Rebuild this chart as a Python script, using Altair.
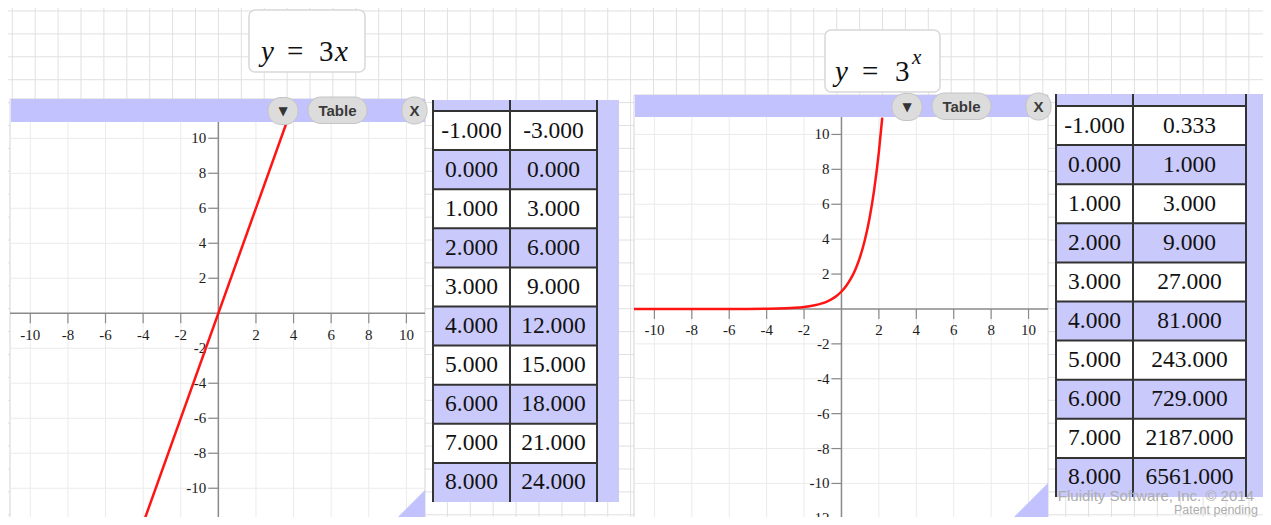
import altair as alt
import pandas as pd

# ---------------- data ----------------
tbl_x = [-1, 0, 1, 2, 3, 4, 5, 6, 7, 8]
tbl_lin_y = [-3, 0, 3, 6, 9, 12, 15, 18, 21, 24]
tbl_exp_y = [0.333, 1, 3, 9, 27, 81, 243, 729, 2187, 6561]

x_ticks = [-10, -8, -6, -4, -2, 2, 4, 6, 8, 10]
y_ticks = [-12, -10, -8, -6, -4, -2, 2, 4, 6, 8, 10]
x_grid = [-10, -8, -6, -4, -2, 2, 4, 6, 8, 10]
y_grid = [-12, -10, -8, -6, -4, -2, 2, 4, 6, 8, 10]

# y = 3x (visible segment)
lin_x = [-4.03, 3.64]
lin_y = [-12.1, 10.93]

# y = 3^x
exp_x = [-11.09, -9, -7, -5, -4, -3, -2.5, -2, -1.5, -1, -0.75, -0.5, -0.25,
         0, 0.25, 0.5, 0.75, 1, 1.25, 1.5, 1.75, 2, 2.18]
exp_y = [0.0, 0.0001, 0.0005, 0.0041, 0.0123, 0.037, 0.0642, 0.1111, 0.1925,
         0.3333, 0.4387, 0.5774, 0.7598, 1.0, 1.3161, 1.7321, 2.2795, 3.0,
         3.9482, 5.1962, 6.8385, 9.0, 10.97]

page_cols = list(range(55))
page_rows = list(range(23))

copyright_lines = ["Fluidity Software, Inc. \u00a9 2014", "Patent pending"]

# ---------------- layout / style ----------------
M = 8
W, H = 1255, 509
SERIF = "Liberation Serif"
SANS = "Liberation Sans"
BAR = "#c2c2fe"
TPURPLE = "#c9c9fb"
INK = "#1c1c1c"


def P(v):
    return v - M


def S(dom, rng):
    return alt.Scale(domain=dom, range=rng, zero=False, nice=False)


one = pd.DataFrame({"o": [0]})


def box(x1, x2, y1, y2, **kw):
    return alt.Chart(one).mark_rect(**kw).encode(
        x=alt.value(P(x1)), x2=alt.value(P(x2)),
        y=alt.value(P(y1)), y2=alt.value(P(y2)))


def label(x, y, text, **kw):
    return alt.Chart(pd.DataFrame({"t": [text]})).mark_text(**kw).encode(
        x=alt.value(P(x)), y=alt.value(P(y)), text="t:N")


layers = []

# page background grid
layers.append(
    alt.Chart(pd.DataFrame({"k": page_cols})).mark_rule(color="#e0e0e0", strokeWidth=1).encode(
        x=alt.X("k:Q", scale=S([0, 1], [P(12.3), P(12.3 + 22.9)]), axis=None),
        y=alt.value(0), y2=alt.value(H)))
layers.append(
    alt.Chart(pd.DataFrame({"k": page_rows})).mark_rule(color="#e0e0e0", strokeWidth=1).encode(
        y=alt.Y("k:Q", scale=S([0, 1], [P(11), P(11 + 22.9)]), axis=None),
        x=alt.value(0), x2=alt.value(W)))

# formula boxes
layers.append(box(249, 365, 10, 72, fill="white", stroke="#d8d8d8", strokeWidth=1.5, cornerRadius=6))
layers.append(label(261, 52, "y", font=SERIF, fontSize=29, fontStyle="italic", align="left", color="#111"))
layers.append(label(287, 52, "=", font=SERIF, fontSize=29, align="left", color="#111"))
layers.append(label(319, 52, "3", font=SERIF, fontSize=29, align="left", color="#111"))
layers.append(label(335, 52, "x", font=SERIF, fontSize=29, fontStyle="italic", align="left", color="#111"))

layers.append(box(825, 940, 30, 92, fill="white", stroke="#d8d8d8", strokeWidth=1.5, cornerRadius=6))
layers.append(label(835, 72, "y", font=SERIF, fontSize=29, fontStyle="italic", align="left", color="#111"))
layers.append(label(862, 72, "=", font=SERIF, fontSize=29, align="left", color="#111"))
layers.append(label(895, 72, "3", font=SERIF, fontSize=29, align="left", color="#111"))
layers.append(label(912, 58, "x", font=SERIF, fontSize=21, fontStyle="italic", align="left", color="#111"))


def graph(G, cx, cy):
    L, R, BT, T, B = G["left"], G["right"], G["bar_top"], G["top"], G["bottom"]
    xs = S(G["xdom"], [P(L), P(R)])
    ys = S(G["ydom"], [P(B), P(T)])
    out = []
    out.append(box(L, R, BT, B, fill="white", stroke="#d4d4d4", strokeWidth=1))
    out.append(alt.Chart(pd.DataFrame({"v": x_grid})).mark_rule(color="#ebebeb", strokeWidth=1).encode(
        x=alt.X("v:Q", scale=xs, axis=None), y=alt.value(P(T)), y2=alt.value(P(B))))
    out.append(alt.Chart(pd.DataFrame({"v": y_grid})).mark_rule(color="#ebebeb", strokeWidth=1).encode(
        y=alt.Y("v:Q", scale=ys, axis=None), x=alt.value(P(L)), x2=alt.value(P(R))))
    zero = pd.DataFrame({"z": [0]})
    out.append(alt.Chart(zero).mark_rule(color="#8a8a8a", strokeWidth=1.5).encode(
        y=alt.Y("z:Q", scale=ys, axis=None), x=alt.value(P(L)), x2=alt.value(P(R))))
    out.append(alt.Chart(zero).mark_rule(color="#8a8a8a", strokeWidth=1.5).encode(
        x=alt.X("z:Q", scale=xs, axis=None), y=alt.value(P(T)), y2=alt.value(P(B))))
    tx = pd.DataFrame({"v": x_ticks, "z": [0] * len(x_ticks), "lab": [str(v) for v in x_ticks]})
    ty = pd.DataFrame({"v": y_ticks, "z": [0] * len(y_ticks), "lab": [str(v) for v in y_ticks]})
    out.append(alt.Chart(tx).mark_rule(color="#8a8a8a", strokeWidth=1.2, y2Offset=10).encode(
        x=alt.X("v:Q", scale=xs, axis=None), y=alt.Y("z:Q", scale=ys, axis=None), y2="z:Q"))
    out.append(alt.Chart(ty).mark_rule(color="#8a8a8a", strokeWidth=1.2, x2Offset=-10).encode(
        y=alt.Y("v:Q", scale=ys, axis=None), x=alt.X("z:Q", scale=xs, axis=None), x2="z:Q"))
    out.append(alt.Chart(tx).mark_text(font=SERIF, fontSize=15, color=INK, dy=G["xdy"],
                                       baseline="alphabetic", align="center").encode(
        x=alt.X("v:Q", scale=xs, axis=None), y=alt.Y("z:Q", scale=ys, axis=None), text="lab:N"))
    out.append(alt.Chart(ty).mark_text(font=SERIF, fontSize=15, color=INK, dx=-12,
                                       baseline="middle", align="right").encode(
        x=alt.X("z:Q", scale=xs, axis=None), y=alt.Y("v:Q", scale=ys, axis=None), text="lab:N"))
    out.append(alt.Chart(pd.DataFrame({"x": cx, "y": cy})).mark_line(
        color="#ff1414", strokeWidth=2.5, interpolate="monotone").encode(
        x=alt.X("x:Q", scale=xs, axis=None), y=alt.Y("y:Q", scale=ys, axis=None)))
    # resize corner
    out.append(alt.Chart(one).mark_point(shape="M 1 -1 L 1 1 L -1 1 Z", size=35 * 35, filled=True,
                                         fill=BAR, opacity=1, strokeWidth=0).encode(
        x=alt.value(P(R - 17.5)), y=alt.value(P(B - 17.5))))
    # title bar and buttons
    out.append(box(L + 1, R, BT, T, fill=BAR))
    cyb = BT + 12
    out.append(box(L + 258, L + 288, BT - 1.5, BT + 25.5, fill="#dcdcdc", stroke="#c4c4c4",
                   strokeWidth=1, cornerRadius=13))
    out.append(box(L + 298, L + 357, BT - 2, BT + 24.5, fill="#dcdcdc", stroke="#c4c4c4",
                   strokeWidth=1, cornerRadius=13))
    out.append(box(L + 392, L + 417, BT - 2, BT + 25, fill="#dcdcdc", stroke="#c4c4c4",
                   strokeWidth=1, cornerRadius=12))
    out.append(label(L + 273, cyb, "\u25bc", font="DejaVu Sans", fontSize=12, color="#333",
                     align="center", baseline="middle"))
    out.append(label(L + 327.5, cyb, "Table", font=SANS, fontSize=15, fontWeight="bold",
                     color="#3a3a3a", align="center", baseline="middle"))
    out.append(label(L + 404.5, cyb, "X", font=SANS, fontSize=15, fontWeight="bold",
                     color="#3a3a3a", align="center", baseline="middle"))
    return out


def table(T, col_a, col_b):
    L, SP, R, ST, TOP, HD, RH = T["left"], T["sep"], T["right"], T["strip"], T["top"], T["hdr"], T["rowh"]
    BOT = HD + 10 * RH
    rs = S([0, 10], [P(HD), P(BOT)])
    df = pd.DataFrame({"i": list(range(len(col_a))),
                       "a": [f"{v:.3f}" for v in col_a],
                       "b": [f"{v:.3f}" for v in col_b]})
    out = []
    out.append(box(L, ST, TOP, BOT, fill=TPURPLE))
    out.append(alt.Chart(df).transform_filter("datum.i % 2 == 0").transform_calculate(
        i1="datum.i + 1").mark_rect(fill="white").encode(
        y=alt.Y("i:Q", scale=rs, axis=None), y2="i1:Q",
        x=alt.value(P(L)), x2=alt.value(P(R))))
    out.append(alt.Chart(df).mark_rule(color="#333", strokeWidth=2).encode(
        y=alt.Y("i:Q", scale=rs, axis=None), x=alt.value(P(L)), x2=alt.value(P(R))))
    for xv in (L, SP, R):
        out.append(alt.Chart(one).mark_rule(color="#333", strokeWidth=2).encode(
            x=alt.value(P(xv)), y=alt.value(P(TOP)), y2=alt.value(P(BOT))))
    for fld, cx in (("a", (L + SP) / 2), ("b", (SP + R) / 2)):
        out.append(alt.Chart(df).transform_calculate(ym="datum.i + 0.5").mark_text(
            font=SERIF, fontSize=23.5, color="#111", align="center", baseline="middle").encode(
            y=alt.Y("ym:Q", scale=rs, axis=None), x=alt.value(P(cx)), text=f"{fld}:N"))
    return out


G1 = dict(left=10, right=425, bar_top=99, top=122, bottom=525,
          xdom=[-11.08, 10.99], ydom=[-12.1, 10.93], xdy=27)
G2 = dict(left=634, right=1048, bar_top=95, top=117, bottom=518,
          xdom=[-11.09, 11.04], ydom=[-11.98, 11.0], xdy=26)
T1 = dict(left=433, sep=510, right=597, strip=619, top=100, hdr=111, rowh=39.1)
T2 = dict(left=1056, sep=1133, right=1246, strip=1265, top=94, hdr=106, rowh=39.1)

layers += graph(G1, lin_x, lin_y)
layers += table(T1, tbl_x, tbl_lin_y)
layers += graph(G2, exp_x, exp_y)
layers += table(T2, tbl_x, tbl_exp_y)

layers.append(label(1254, 501, copyright_lines[0], font=SANS, fontSize=15, color="#adadad",
                    align="right", baseline="alphabetic"))
layers.append(label(1258, 514, copyright_lines[1], font=SANS, fontSize=12.5, color="#adadad",
                    align="right", baseline="alphabetic"))

chart = alt.layer(*layers).resolve_scale(x="independent", y="independent").properties(
    width=W, height=H, padding=0, autosize=alt.AutoSizeParams(type="none"),
    background="white"
).configure_view(strokeWidth=0)

chart.save("out.html", embed_options={"renderer": "svg", "actions": False})
